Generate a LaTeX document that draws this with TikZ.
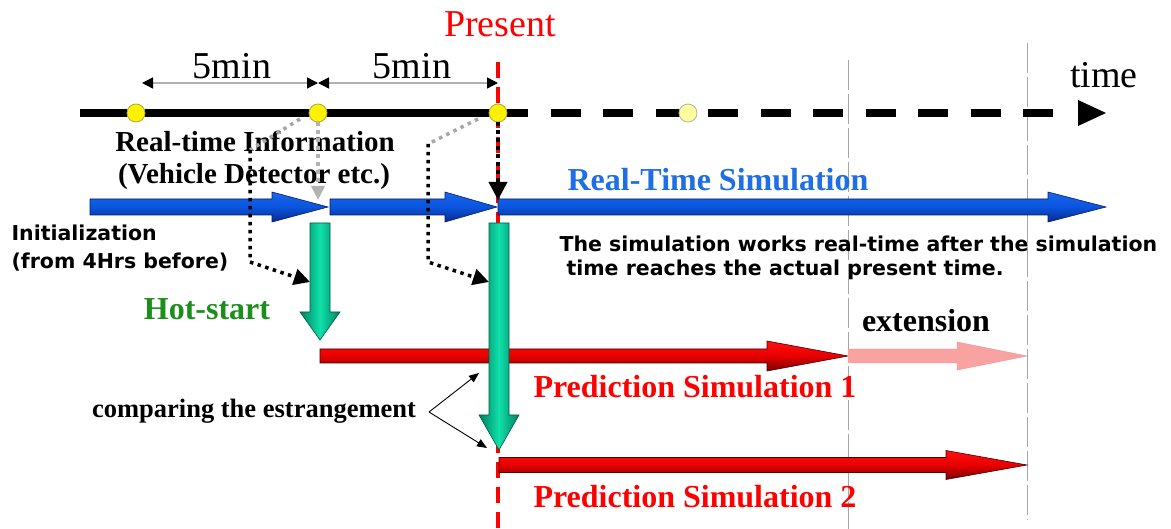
\documentclass[tikz,border=0pt]{standalone}
\usepackage{fontspec}
\setmainfont{Liberation Serif}
\newfontfamily\dvs{DejaVu Sans}
\usetikzlibrary{arrows.meta}
\definecolor{bluetop}{HTML}{1C66EE}
\definecolor{bluemid}{HTML}{0A55DD}
\definecolor{bluebot}{HTML}{0A2A90}
\definecolor{bluetxt}{HTML}{1E6EE6}
\definecolor{gdark}{HTML}{00805F}
\definecolor{gmid}{HTML}{10E0AA}
\definecolor{gtxt}{HTML}{1B8F1B}
\definecolor{redtop}{HTML}{FF1010}
\definecolor{redmid}{HTML}{E80000}
\definecolor{redbot}{HTML}{7A0000}
\definecolor{pinkf}{HTML}{F8A2A2}
\definecolor{dotyel}{HTML}{FFF200}
\definecolor{dotpale}{HTML}{FFFF9E}
% horizontal block arrow: x-start, x-tip, x-headstart, y, half body, half head, style
\newcommand{\harrow}[7]{\shadedraw[#7] (#1,{#4-#5}) -- (#3,{#4-#5}) -- (#3,{#4-#6}) -- (#2,#4) -- (#3,{#4+#6}) -- (#3,{#4+#5}) -- (#1,{#4+#5}) -- cycle;}
% vertical block arrow: x-center, y-top, y-headstart, y-tip, half body, half head, style
\newcommand{\varrow}[7]{\shadedraw[#7] ({#1-#5},#2) -- ({#1+#5},#2) -- ({#1+#5},#3) -- ({#1+#6},#3) -- (#1,#4) -- ({#1-#6},#3) -- ({#1-#5},#3) -- cycle;}
\tikzset{
  tl/.style={line width=8pt},
  dim/.style={gray!60, line width=1.5pt, {Triangle[length=11pt,width=11pt,color=black]}-{Triangle[length=11pt,width=11pt,color=black]}},
  ydot/.style={circle, minimum size=18pt, inner sep=0pt, fill=dotyel, draw=olive!70, line width=0.8pt},
  pdot/.style={circle, minimum size=18pt, inner sep=0pt, fill=dotpale, draw=gray!60, line width=0.8pt},
  dline/.style={line width=3.5pt, dash pattern=on 3.5pt off 4.5pt},
  tipk/.style={-{Triangle[length=16pt,width=16pt]}},
  guide/.style={gray!70, line width=0.8pt, dash pattern=on 30pt off 4pt},
  bluea/.style={top color=bluetop, bottom color=bluebot, middle color=bluemid, draw=bluebot!70!black, line width=0.6pt},
  greena/.style={left color=gdark, right color=gdark, middle color=gmid, draw=gdark!70!black, line width=0.6pt},
  reda/.style={top color=redtop, bottom color=redbot, middle color=redmid, draw=redbot!60!black, line width=0.6pt},
  pinka/.style={fill=pinkf, draw=pinkf!90!red, line width=0.4pt},
  ser/.style={font=\fontsize{38}{40}\selectfont},
  serb/.style={font=\fontsize{32}{34}\selectfont\bfseries},
  sanb/.style={font=\dvs\fontsize{20.5}{24}\selectfont\bfseries, align=left},
  thin/.style={line width=0.9pt, -{Triangle[length=10pt,width=8pt]}}
}
\begin{document}
\begin{tikzpicture}[x=1pt,y=-1pt]
\useasboundingbox[fill=white] (0,0) rectangle (1171,529);
% guide lines
\draw[guide] (848,60) -- (848,529);
\draw[guide] (1027,43) -- (1027,520);
% present line
\draw[red, line width=3.5pt, dash pattern=on 16pt off 9pt] (498,62) -- (498,529);
% timeline
\coordinate (t0) at (80,113);
\coordinate (d1) at (136,113);
\coordinate (d2) at (318,113);
\coordinate (d3) at (498,113);
\coordinate (d4) at (688,113);
\coordinate (tdash) at (1055,113);
\draw[tl] (t0) -- (d3);
\draw[tl, dash pattern=on 30pt off 22.5pt] (d3) -- (tdash);
\fill (1078,100) -- (1106,113) -- (1078,126) -- cycle;
\node[ydot] (n1) at (d1) {};
\node[ydot] (n2) at (d2) {};
\node[ydot] (n3) at (d3) {};
\node[pdot] (n4) at (d4) {};
% dimension arrows
\coordinate (m0) at (142,83);
\coordinate (m1) at (318,83);
\coordinate (m2) at (498,83);
\draw[dim] (m0) -- (m1);
\draw[dim] (m1) -- (m2);
\node[ser] (five1) at (232,66) {5min};
\node[ser] (five2) at (412,66) {5min};
\node[ser, red] (present) at (500,24) {Present};
\node[ser] (time) at (1104,75) {time};
% texts
\node[font=\fontsize{29}{31}\selectfont\bfseries] (rti) at (255,141) {Real-time Information};
\node[font=\fontsize{29}{31}\selectfont\bfseries] (vd) at (254,177) {(Vehicle Detector etc.)};
\node[serb, bluetxt] (rts) at (718,180) {Real-Time Simulation};
\node[sanb, anchor=west] (init) at (8,233) {Initialization};
\node[sanb, anchor=west] (from) at (8,262) {(from 4Hrs before)};
\node[sanb, anchor=west] (sim1) at (556,244) {The simulation works real-time after the simulation};
\node[sanb, anchor=west] (sim2) at (563,270) {time reaches the actual present time.};
\node[serb, gtxt] (hot) at (207,309) {Hot-start};
\node[serb] (ext) at (926,321) {extension};
\node[serb, red] (p1) at (695,387) {Prediction Simulation 1};
\node[serb, red] (p2) at (695,497) {Prediction Simulation 2};
\node[font=\fontsize{26.5}{28}\selectfont\bfseries] (cmp) at (254,411) {comparing the estrangement};
% blue arrows
\harrow{90}{328}{272}{207}{8}{15}{bluea}
\harrow{330}{497}{445}{207}{8}{15}{bluea}
\harrow{498}{1106}{1048}{207}{8}{15}{bluea}
% dotted information arrows
\coordinate (a1) at (300,119);
\coordinate (a2) at (250,150);
\coordinate (a3) at (250,262);
\coordinate (a4) at (310,282);
\draw[dline, gray!70] (a1) -- (a2);
\draw[dline, tipk] (a2) -- (a3) -- (a4);
\coordinate (b1) at (478,119);
\coordinate (b2) at (428,144);
\coordinate (b3) at (428,262);
\coordinate (b4) at (489,282);
\draw[dline, gray!70] (b1) -- (b2);
\draw[dline, tipk] (b2) -- (b3) -- (b4);
\coordinate (v1) at (318,200);
\coordinate (v2) at (498,200);
\draw[dline, gray!60, -{Triangle[length=14pt,width=13pt]}] (n2.south) -- (v1);
\draw[dline, -{Triangle[length=18pt,width=18pt]}] (n3.south) -- (v2);
% red prediction arrows
\harrow{320}{848}{767}{356}{7}{15}{reda}
\fill[pinka] (848,349) -- (957,349) -- (957,342) -- (1027,356) -- (957,370) -- (957,363) -- (848,363) -- cycle;
\harrow{499}{1027}{946}{465}{7.5}{14.5}{reda}
% green hot-start arrows
\varrow{320}{223}{312}{340}{10}{20}{greena}
\varrow{499}{223}{415}{450}{10}{20}{greena}
% comparing arrows
\coordinate (c0) at (429,412);
\coordinate (c1) at (479,373);
\coordinate (c2) at (487,448);
\draw[thin] (c0) -- (c1);
\draw[thin] (c0) -- (c2);
\end{tikzpicture}
\end{document}
